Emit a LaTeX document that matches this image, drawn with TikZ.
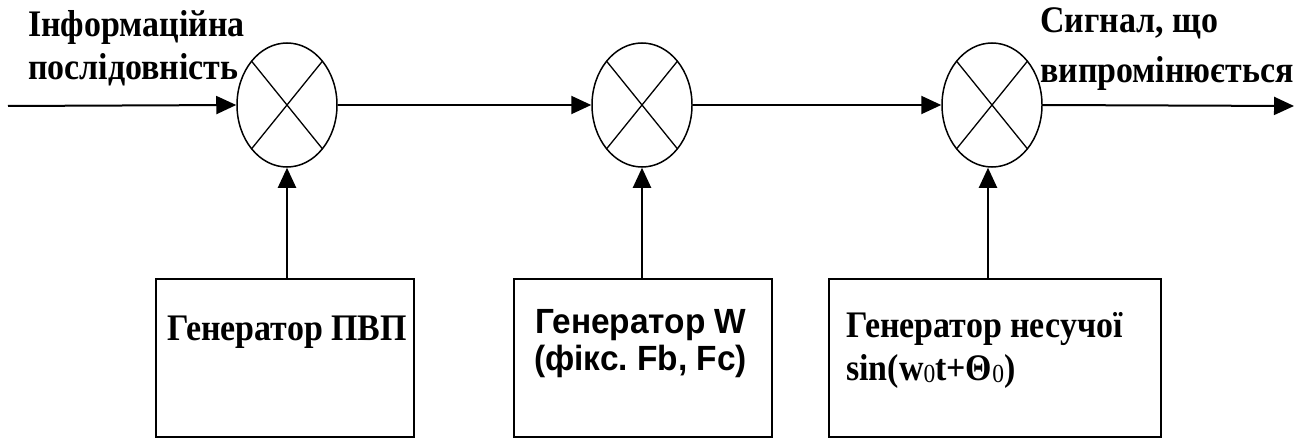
\documentclass[tikz,border=0pt]{standalone}
\usepackage{fontspec}
\setmainfont{Liberation Serif}
\newfontfamily\serifnarrow[FakeStretch=0.905]{Liberation Serif}
\newfontfamily\arialfont[FakeStretch=0.955]{Liberation Sans}
\usetikzlibrary{arrows.meta,shapes.geometric}
\frenchspacing
\begin{document}
\begin{tikzpicture}[x=1pt,y=-1pt,
  mix/.style={draw,ellipse,line width=1.5pt,minimum width=100pt,minimum height=124pt,inner sep=0pt},
  genbox/.style={draw,rectangle,line width=1.8pt,inner sep=0pt},
  conn/.style={line width=2pt,-{Triangle[length=20pt,width=18pt]}},
  lbl/.style={anchor=base west,inner sep=0pt,font=\serifnarrow\fontsize{37.5}{42}\selectfont\bfseries},
  slbl/.style={anchor=base west,inner sep=0pt,font=\arialfont\fontsize{35}{40}\selectfont\bfseries}]
\useasboundingbox (0,0) rectangle (1300,441);
% mixers
\node[mix] (m1) at (287,105) {};
\node[mix] (m2) at (642,105) {};
\node[mix] (m3) at (992,105) {};
\foreach \m in {m1,m2,m3}{
  \draw[line width=1.3pt] ([shift={(-35.4,-43.8)}]\m.center) -- ([shift={(35.4,43.8)}]\m.center);
  \draw[line width=1.3pt] ([shift={(35.4,-43.8)}]\m.center) -- ([shift={(-35.4,43.8)}]\m.center);
}
% boxes
\node[genbox,minimum width=258pt,minimum height=158pt] (b1) at (285,358) {};
\node[genbox,minimum width=258pt,minimum height=158pt] (b2) at (643,358) {};
\node[genbox,minimum width=332pt,minimum height=158pt] (b3) at (995,358) {};
% coordinates
\coordinate (in) at (8,106);
\coordinate (out) at (1294,106);
% connectors
\draw[conn] (in) -- (m1.west);
\draw[conn] (m1.east) -- (m2.west);
\draw[conn] (m2.east) -- (m3.west);
\draw[conn] (m3.east) -- (out);
\draw[conn] (m1 |- b1.north) -- (m1.south);
\draw[conn] (m2 |- b2.north) -- (m2.south);
\draw[conn] ([xshift=-4pt]m3 |- b3.north) -- ([xshift=-4pt]m3.south);
% texts
\node[lbl] (t1) at (28,37) {Інформаційна};
\node[lbl] (t2) at (28,80) {послідовність};
\node[lbl] (t3) at (1040,33) {Сигнал, що};
\node[lbl] (t4) at (1040,83) {випромінюється};
\node[lbl] (g1) at (167,340) {Генератор ПВП};
\node[slbl] (g2a) at (535,333) {Генератор W};
\node[slbl] (g2b) at (534,370) {(фікс. Fb, Fc)};
\node[lbl] (g3a) at (846,337) {Генератор несучої};
\node[lbl] (g3b) at (846,380) {sin(w{\mdseries\fontsize{26}{26}\selectfont\raisebox{-2pt}{0}}t+Θ{\mdseries\fontsize{26}{26}\selectfont\raisebox{-2pt}{0}})};
\end{tikzpicture}
\end{document}
